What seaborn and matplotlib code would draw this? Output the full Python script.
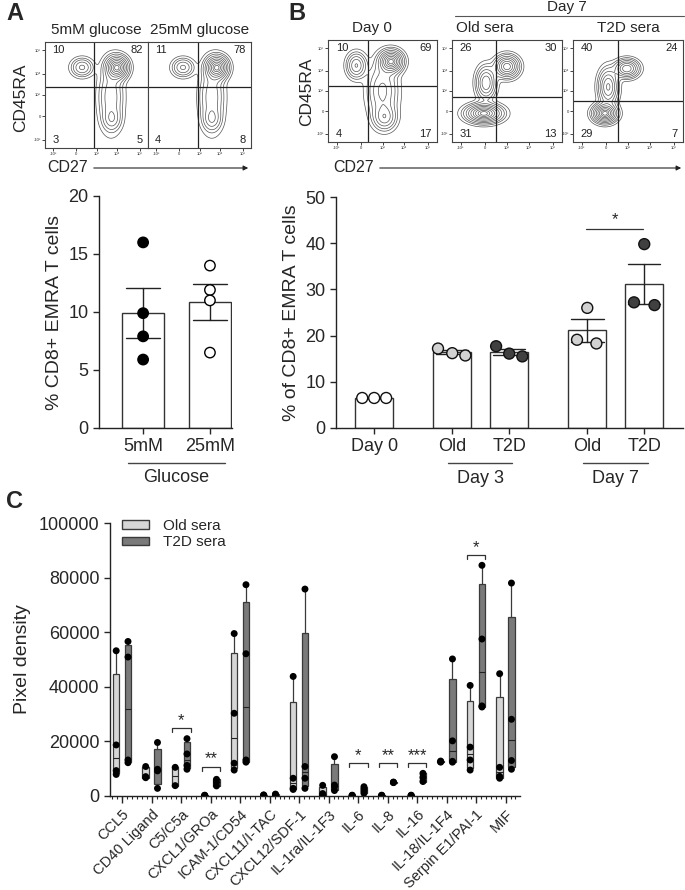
"""
plot.py
-------
CD8+ EMRA T cells under glucose / sera conditions, plus cytokine array.
"""

import numpy as np
import pandas as pd
import matplotlib
matplotlib.use("Agg")
import matplotlib.pyplot as plt
import matplotlib.transforms as mtransforms
from matplotlib.patches import Patch, FancyArrowPatch
import seaborn as sns

W, H = 685, 890

# ---------------------------------------------------------------------------
# Data
# ---------------------------------------------------------------------------

# flow plots: quadrant percentages (UL, UR, LL, LR)
glucose_titles = ["5mM glucose", "25mM glucose"]
glucose_quads = [[10, 82, 3, 5], [11, 78, 4, 8]]
sera_titles = ["Day 0", "Old sera", "T2D sera"]
sera_quads = [[10, 69, 4, 17], [26, 30, 31, 13], [40, 24, 29, 7]]

# quadrant gates, axes fraction (x, y)
glucose_gates = [(0.48, 0.575), (0.49, 0.575)]
sera_gates = [(0.37, 0.55), (0.40, 0.44), (0.41, 0.40)]

# populations: (cx, cy, sx, sy, weight)
pops_5mM = [(0.70, 0.76, 0.06, 0.06, 1.0), (0.36, 0.76, 0.06, 0.05, 0.35),
            (0.64, 0.48, 0.07, 0.18, 0.30), (0.65, 0.27, 0.05, 0.06, 0.20)]
pops_25mM = [(0.67, 0.76, 0.06, 0.06, 1.0), (0.34, 0.76, 0.06, 0.05, 0.35),
             (0.62, 0.48, 0.07, 0.18, 0.30), (0.62, 0.27, 0.05, 0.06, 0.22)]
pops_day0 = [(0.58, 0.79, 0.06, 0.06, 1.0), (0.26, 0.75, 0.05, 0.07, 0.45),
             (0.50, 0.50, 0.08, 0.16, 0.35), (0.52, 0.24, 0.06, 0.07, 0.35)]
pops_old = [(0.50, 0.74, 0.06, 0.06, 0.8), (0.31, 0.58, 0.05, 0.09, 0.55),
            (0.29, 0.28, 0.09, 0.05, 1.0)]
pops_t2d = [(0.49, 0.72, 0.06, 0.05, 0.7), (0.32, 0.54, 0.05, 0.10, 0.6),
            (0.29, 0.28, 0.06, 0.05, 1.0)]
glucose_pops = [pops_5mM, pops_25mM]
sera_pops = [pops_day0, pops_old, pops_t2d]

flow_tick_pos = [0.08, 0.30, 0.50, 0.70, 0.92]
flow_tick_lbl = ["-10³", "0", "10³", "10⁴", "10⁵"]

# panel A bar chart
glucose_groups = ["5mM", "25mM"]
emra_5mM = [16.0, 9.9, 7.9, 5.9]
emra_25mM = [14.0, 11.9, 11.0, 6.5]

# panel B bar chart
b_labels = ["Day 0", "Old", "T2D", "Old", "T2D"]
b_serum = ["Day 0", "Old", "T2D", "Old", "T2D"]
emra_day0 = [6.5, 6.5, 6.5]
emra_old_d3 = [17.2, 16.2, 15.7]
emra_t2d_d3 = [17.7, 16.1, 15.5]
emra_old_d7 = [19.1, 26.0, 18.3]
emra_t2d_d7 = [27.2, 39.8, 26.6]

# panel C cytokine array
cytokines = ["CCL5", "CD40 Ligand", "C5/C5a", "CXCL1/GROa", "ICAM-1/CD54",
             "CXCL11/I-TAC", "CXCL12/SDF-1", "IL-1ra/IL-1F3", "IL-6", "IL-8",
             "IL-16", "IL-18/IL-1F4", "Serpin E1/PAI-1", "MIF"]
old_sera = [
    [7900, 9300, 18700, 53200],
    [6700, 7100, 10800],
    [3800, 10500],
    [100, 200, 300],
    [9500, 12000, 30300, 59500],
    [200, 300, 400],
    [2400, 2800, 6500, 43800],
    [100, 300, 900, 3900],
    [100, 200, 300],
    [100, 200, 300],
    [100, 200, 300],
    [12400, 12600, 12800],
    [9500, 13200, 17900, 40500],
    [6500, 7200, 10500, 44800],
]
t2d_sera = [
    [12200, 13200, 50900, 56600],
    [2800, 9200, 9800, 19600],
    [9800, 11200, 15400, 21000],
    [3700, 5000, 6100],
    [12400, 13200, 52100, 77400],
    [300, 500, 700],
    [2800, 6500, 10800, 75800],
    [2000, 3400, 4000, 14400],
    [1000, 1800, 2600, 3400],
    [4900, 5000, 5100],
    [5300, 6800, 8300],
    [12400, 12700, 20200, 50200],
    [32600, 33000, 57500, 84500],
    [9800, 13000, 28100, 78000],
]
c_sig_idx = [2, 3, 8, 9, 10, 12]
c_sig_lbl = ["*", "**", "*", "**", "***", "*"]
c_sig_y = [24800, 10800, 12000, 12000, 12000, 88200]

LIGHT = "#d6d6d6"
DARK = "#7a7a7a"
EDGE = "#3a3a3a"


# ---------------------------------------------------------------------------
# Helpers
# ---------------------------------------------------------------------------

def px_axes(fig, x0, y0, x1, y1):
    """Add axes given pixel box (top-left origin)."""
    return fig.add_axes([x0 / W, 1 - y1 / H, (x1 - x0) / W, (y1 - y0) / H])


def fx(x):
    return x / W


def fy(y):
    return 1 - y / H


def flow_plot(ax, pops, gate, quads, show_y=True):
    gx, gy = np.meshgrid(np.linspace(0, 1, 160), np.linspace(0, 1, 160))
    z = np.zeros_like(gx)
    for cx, cy, sx, sy, w in pops:
        z += w * np.exp(-((gx - cx) ** 2 / (2 * sx ** 2) + (gy - cy) ** 2 / (2 * sy ** 2)))
    levels = z.max() * np.array([0.03, 0.07, 0.12, 0.2, 0.3, 0.42, 0.56, 0.7, 0.84, 0.94])
    ax.contour(gx, gy, z, levels=levels, colors="#555555", linewidths=0.5)
    ax.axvline(gate[0], color="#222222", lw=0.9)
    ax.axhline(gate[1], color="#222222", lw=0.9)
    ax.set_xlim(0, 1)
    ax.set_ylim(0, 1)
    kw = dict(transform=ax.transAxes, fontsize=8, color="#222222")
    ax.text(0.07, 0.97, str(quads[0]), ha="left", va="top", **kw)
    ax.text(0.95, 0.97, str(quads[1]), ha="right", va="top", **kw)
    ax.text(0.07, 0.03, str(quads[2]), ha="left", va="bottom", **kw)
    ax.text(0.95, 0.03, str(quads[3]), ha="right", va="bottom", **kw)
    ax.set_xticks(flow_tick_pos)
    ax.set_xticklabels(flow_tick_lbl)
    if show_y:
        ax.set_yticks(flow_tick_pos)
        ax.set_yticklabels(flow_tick_lbl)
    else:
        ax.set_yticks([])
    ax.tick_params(labelsize=3, length=2, width=0.6, pad=1)
    for s in ax.spines.values():
        s.set_linewidth(0.8)
        s.set_color("#444444")


def bar_axes_style(ax, size=13):
    sns.despine(ax=ax)
    ax.tick_params(labelsize=size, length=4, width=1)
    for s in ax.spines.values():
        s.set_linewidth(1)
        s.set_color("#222222")


# ---------------------------------------------------------------------------
# Figure
# ---------------------------------------------------------------------------

sns.set_style("ticks")
plt.rcParams["font.family"] = ["Liberation Sans", "DejaVu Sans"]

fig = plt.figure(figsize=(W / 100, H / 100), dpi=100)

# panel letters
fig.text(fx(6), fy(2), "A", fontsize=17, fontweight="bold", va="top")
fig.text(fx(288), fy(2), "B", fontsize=17, fontweight="bold", va="top")
fig.text(fx(6), fy(490), "C", fontsize=17, fontweight="bold", va="top")

# --- panel A flow plots
for i, (x0, x1) in enumerate([(45, 148), (148, 251)]):
    ax = px_axes(fig, x0, 42, x1, 148)
    flow_plot(ax, glucose_pops[i], glucose_gates[i], glucose_quads[i], show_y=(i == 0))
    fig.text(fx((x0 + x1) / 2), fy(30), glucose_titles[i], ha="center", va="center", fontsize=11)
fig.text(fx(21), fy(98), "CD45RA", rotation=90, ha="center", va="center", fontsize=12.5)
fig.text(fx(47), fy(167), "CD27", ha="left", va="center", fontsize=11.5)
fig.add_artist(FancyArrowPatch((fx(91), fy(168)), (fx(251), fy(168)), transform=fig.transFigure,
                               arrowstyle="-|>", mutation_scale=7, lw=0.8, color="#222222"))

# --- panel B flow plots
for i, (x0, x1) in enumerate([(328, 437), (452, 562), (573, 683)]):
    ax = px_axes(fig, x0, 40, x1, 142)
    flow_plot(ax, sera_pops[i], sera_gates[i], sera_quads[i])
title_x = [372, 485, 628]
for t, x in zip(sera_titles, title_x):
    fig.text(fx(x), fy(28), t, ha="center", va="center", fontsize=11)
fig.text(fx(567), fy(7), "Day 7", ha="center", va="center", fontsize=11)
fig.add_artist(plt.Line2D([fx(455), fx(684)], [fy(16), fy(16)], color="#555555", lw=0.8))
fig.text(fx(307), fy(92), "CD45RA", rotation=90, ha="center", va="center", fontsize=12.5)
fig.text(fx(333), fy(167), "CD27", ha="left", va="center", fontsize=11.5)
fig.add_artist(FancyArrowPatch((fx(377), fy(168)), (fx(684), fy(168)), transform=fig.transFigure,
                               arrowstyle="-|>", mutation_scale=7, lw=0.8, color="#222222"))

# --- panel A bar chart
adf = pd.DataFrame({
    "cond": ["5mM"] * len(emra_5mM) + ["25mM"] * len(emra_25mM),
    "value": emra_5mM + emra_25mM,
})
axA = px_axes(fig, 99, 196, 232, 428)
sns.barplot(data=adf, x="cond", y="value", order=glucose_groups, errorbar="se",
            capsize=0.5, width=0.64, color="white", edgecolor="#333333", linewidth=1,
            err_kws={"color": "#222222", "linewidth": 1}, ax=axA)
sns.stripplot(data=adf, x="cond", y="value", order=glucose_groups, hue="cond",
              palette={"5mM": "black", "25mM": "white"}, jitter=False, size=7.5,
              edgecolor="black", linewidth=1, legend=False, zorder=4, ax=axA)
axA.set_ylim(0, 20)
axA.set_yticks([0, 5, 10, 15, 20])
axA.set_xlim(-0.66, 1.33)
axA.set_xlabel("")
axA.set_ylabel("% CD8+ EMRA T cells", fontsize=14, labelpad=4)
bar_axes_style(axA)
transA = mtransforms.blended_transform_factory(axA.transData, axA.transAxes)
axA.plot([-0.22, 1.22], [-0.152, -0.152], color="#444444", lw=1, transform=transA, clip_on=False)
axA.text(0.5, -0.215, "Glucose", ha="center", va="center", fontsize=13, transform=transA)

# --- panel B bar chart
b_pos = [0, 1.37, 2.37, 3.74, 4.74]
b_offsets = [[-0.21, 0, 0.21], [-0.25, 0, 0.23], [-0.23, 0, 0.23],
             [-0.18, 0, 0.16], [-0.18, 0, 0.18]]
b_values = [emra_day0, emra_old_d3, emra_t2d_d3, emra_old_d7, emra_t2d_d7]
rows = []
for p, s, vals, offs in zip(b_pos, b_serum, b_values, b_offsets):
    for v, o in zip(vals, offs):
        rows.append({"pos": p, "x": p + o, "value": v, "serum": s})
bdf = pd.DataFrame(rows)

axB = px_axes(fig, 336, 197, 683, 428)
sns.barplot(data=bdf, x="pos", y="value", native_scale=True, errorbar="se",
            capsize=0.57, width=0.67, color="white", edgecolor="#333333", linewidth=1,
            err_kws={"color": "#222222", "linewidth": 1}, ax=axB)
sns.scatterplot(data=bdf, x="x", y="value", hue="serum",
                palette={"Day 0": "white", "Old": "#d2d2d2", "T2D": "#404040"},
                s=62, edgecolor="#111111", linewidth=1, legend=False, zorder=4, ax=axB)
axB.set_ylim(0, 50)
axB.set_yticks([0, 10, 20, 30, 40, 50])
axB.set_xlim(-0.67, 5.42)
axB.set_xticks(b_pos)
axB.set_xticklabels(b_labels)
axB.set_xlabel("")
axB.set_ylabel("% of CD8+ EMRA T cells", fontsize=14, labelpad=4)
bar_axes_style(axB)
transB = mtransforms.blended_transform_factory(axB.transData, axB.transAxes)
for (a, b), lbl in zip([(1.30, 2.42), (3.67, 4.81)], ["Day 3", "Day 7"]):
    axB.plot([a, b], [-0.152, -0.152], color="#444444", lw=1, transform=transB, clip_on=False)
    axB.text((a + b) / 2, -0.22, lbl, ha="center", va="center", fontsize=13, transform=transB)
axB.plot([3.72, 4.72], [43.1, 43.1], color="#333333", lw=0.9)
axB.text(4.22, 43.4, "*", ha="center", va="bottom", fontsize=12)

# --- panel C cytokine array
rows = []
for name, o_vals, t_vals in zip(cytokines, old_sera, t2d_sera):
    rows += [{"cytokine": name, "group": "Old sera", "value": v} for v in o_vals]
    rows += [{"cytokine": name, "group": "T2D sera", "value": v} for v in t_vals]
cdf = pd.DataFrame(rows)

axC = px_axes(fig, 110, 523, 520, 796)
sns.stripplot(data=cdf, x="cytokine", y="value", order=cytokines, hue="group",
              hue_order=["Old sera", "T2D sera"], palette={"Old sera": "black", "T2D sera": "black"},
              dodge=True, jitter=False, size=5, legend=False, zorder=4, ax=axC)


def box_stats(vals):
    q1, med, q3 = np.percentile(vals, [25, 50, 75], method="weibull")
    return {"med": med, "q1": q1, "q3": q3, "whislo": min(vals), "whishi": max(vals), "fliers": []}


for group, data, shift, color in [("Old sera", old_sera, -0.2, LIGHT), ("T2D sera", t2d_sera, 0.2, DARK)]:
    stats = [box_stats(v) for v in data]
    axC.bxp(stats, positions=np.arange(len(cytokines)) + shift, widths=0.22,
            patch_artist=True, showcaps=False, showfliers=False, manage_ticks=False,
            boxprops={"facecolor": color, "edgecolor": EDGE, "linewidth": 0.9},
            whiskerprops={"color": EDGE, "linewidth": 0.9},
            medianprops={"color": "#222222", "linewidth": 0.8}, zorder=2)

axC.set_ylim(0, 100000)
axC.set_yticks(np.arange(0, 100001, 20000))
axC.set_xlim(-0.41, 13.49)
axC.set_xlabel("")
axC.set_ylabel("Pixel density", fontsize=14, labelpad=6)
bar_axes_style(axC)
axC.set_xticks(range(len(cytokines)))
axC.set_xticklabels(cytokines, rotation=45, ha="right", rotation_mode="anchor", fontsize=10.5)
axC.set_xticks(np.arange(-0.33, 13.49, 1 / 6), minor=True)
axC.tick_params(axis="x", which="minor", length=2, width=0.8)
axC.tick_params(axis="x", which="major", length=5, pad=3)

for i, lbl, yv in zip(c_sig_idx, c_sig_lbl, c_sig_y):
    axC.plot([i - 0.3, i - 0.3, i + 0.32, i + 0.32], [yv - 1500, yv, yv, yv - 1500],
             color="#333333", lw=0.9)
    axC.text(i + 0.01, yv + 200, lbl, ha="center", va="bottom", fontsize=12)

axC.legend(handles=[Patch(facecolor=LIGHT, edgecolor=EDGE, label="Old sera"),
                    Patch(facecolor=DARK, edgecolor=EDGE, label="T2D sera")],
           loc="upper left", bbox_to_anchor=(-0.005, 1.065), frameon=False, fontsize=11,
           handlelength=1.8, handleheight=0.5, labelspacing=0.15, handletextpad=0.9)

fig.savefig("out.png", dpi=100)
